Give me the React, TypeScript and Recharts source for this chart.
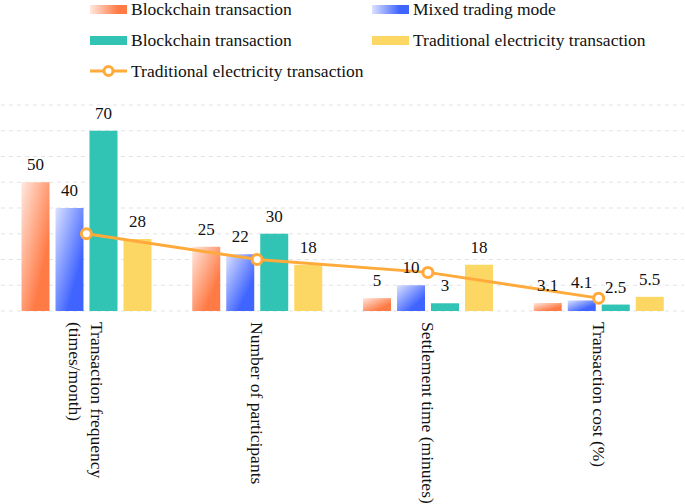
import React from "react";
import { ComposedChart, Bar, Line, XAxis, YAxis, CartesianGrid, Legend, LabelList } from "recharts";

const categories = ["Transaction frequency (times/month)", "Number of participants", "Settlement time (minutes)", "Transaction cost (%)"];
const tickLines = [["Transaction frequency", "(times/month)"], ["Number of participants"], ["Settlement time (minutes)"], ["Transaction cost (%)"]];
const blockchain = [50, 25, 5, 3.1];
const mixed = [40, 22, 10, 4.1];
const blockchainB = [70, 30, 3, 2.5];
const traditional = [28, 18, 18, 5.5];
const traditionalLine = [30, 20, 15, 5];
const yTicks = [0, 10, 20, 30, 40, 50, 60, 70, 80];
const edgeTicks = [0, 1, 2, 3, 4];
const legendOrder = ["blockchain", "mixed", "blockchainB", "traditional", "line"];

const data = categories.map((name, i) => ({
  name,
  blockchain: blockchain[i],
  mixed: mixed[i],
  blockchainB: blockchainB[i],
  traditional: traditional[i],
  line: traditionalLine[i],
}));

const FONT = "Liberation Serif";
const LINE_COLOR = "#FFAA3B";

const legendIcons: Record<string, string> = {
  blockchain: "linear-gradient(90deg, #FFE8DF 0%, #FF7B46 75%)",
  mixed: "linear-gradient(90deg, #DCE2FF 0%, #3F64FF 75%)",
  blockchainB: "#31C3B4",
  traditional: "#FDD764",
};

function LegendContent({ payload }: any) {
  const items = [...(payload || [])].sort(
    (a: any, b: any) => legendOrder.indexOf(a.dataKey) - legendOrder.indexOf(b.dataKey)
  );
  return (
    <div style={{ position: "relative", width: 685, height: 90, fontFamily: FONT, fontSize: 17.5, color: "#111" }}>
      {items.map((item: any, i: number) => {
        const col = i % 2;
        const row = Math.floor(i / 2);
        const key = item.dataKey as string;
        return (
          <div
            key={i}
            style={{
              position: "absolute",
              left: col === 0 ? 90 : 372,
              top: 9 + row * 31 - 15,
              height: 30,
              display: "flex",
              alignItems: "center",
              whiteSpace: "nowrap",
            }}
          >
            {key === "line" ? (
              <svg width={37} height={12} style={{ marginRight: 4 }}>
                <line x1={0} y1={6} x2={37} y2={6} stroke={LINE_COLOR} strokeWidth={3} />
                <circle cx={18.5} cy={6} r={4.5} fill="#fff" stroke={LINE_COLOR} strokeWidth={3} />
              </svg>
            ) : (
              <span style={{ display: "inline-block", width: 37, height: 9, background: legendIcons[key], marginRight: 4 }} />
            )}
            <span>{item.value}</span>
          </div>
        );
      })}
    </div>
  );
}

function CategoryTick({ x, y, payload }: any) {
  const lines = tickLines[payload.index] || [payload.value];
  const n = lines.length;
  return (
    <g transform={`translate(${x},${y})`}>
      <text transform="rotate(90)" style={{ fontFamily: FONT, fontSize: 17.5 }} fill="#111" textAnchor="start">
        {lines.map((l: string, i: number) => (
          <tspan key={i} x={11} y={-((n - 1) / 2 - i) * 22 + 6}>
            {l}
          </tspan>
        ))}
      </text>
    </g>
  );
}

const labelStyle = { fontFamily: FONT, fontSize: 17 };

export default function App() {
  return (
    <div style={{ position: "absolute", left: 0, top: 0, fontFamily: FONT }}>
      <ComposedChart width={685} height={504} data={data} margin={{ top: 15, right: 1, bottom: 0, left: 1 }} barGap={6} barCategoryGap="12%">
        <defs>
          <linearGradient id="gOrange" x1="0" y1="0" x2="1" y2="1">
            <stop offset="0%" stopColor="#FFE8DF" />
            <stop offset="72%" stopColor="#FF7B46" />
          </linearGradient>
          <linearGradient id="gBlue" x1="0" y1="0" x2="1" y2="1">
            <stop offset="0%" stopColor="#DCE2FF" />
            <stop offset="72%" stopColor="#3F64FF" />
          </linearGradient>
        </defs>
        <CartesianGrid vertical={false} stroke="#E3E3E3" strokeDasharray="4 4" />
        <XAxis
          xAxisId={0}
          type="number"
          domain={[0, 4]}
          ticks={edgeTicks}
          allowDataOverflow
          height={0}
          tickSize={5}
          tickFormatter={() => ""}
          stroke="#DDDDDD"
          tickLine={{ stroke: "#DDDDDD" }}
          axisLine={{ stroke: "#DDDDDD" }}
        />
        <XAxis xAxisId="cat" dataKey="name" height={193} axisLine={false} tickLine={false} tickSize={0} tickMargin={0} interval={0} tick={<CategoryTick />} />
        <YAxis hide domain={[0, 80]} ticks={yTicks} />
        <Legend verticalAlign="top" align="left" wrapperStyle={{ top: 0, left: 0, width: 685 }} content={<LegendContent />} />
        <Bar xAxisId="cat" dataKey="blockchain" name="Blockchain transaction" fill="url(#gOrange)" isAnimationActive={false}>
          <LabelList dataKey="blockchain" position="top" offset={12} fill="#111" style={labelStyle} />
        </Bar>
        <Bar xAxisId="cat" dataKey="mixed" name="Mixed trading mode" fill="url(#gBlue)" isAnimationActive={false}>
          <LabelList dataKey="mixed" position="top" offset={12} fill="#111" style={labelStyle} />
        </Bar>
        <Bar xAxisId="cat" dataKey="blockchainB" name="Blockchain transaction" fill="#31C3B4" isAnimationActive={false}>
          <LabelList dataKey="blockchainB" position="top" offset={12} fill="#111" style={labelStyle} />
        </Bar>
        <Bar xAxisId="cat" dataKey="traditional" name="Traditional electricity transaction" fill="#FDD764" isAnimationActive={false}>
          <LabelList dataKey="traditional" position="top" offset={12} fill="#111" style={labelStyle} />
        </Bar>
        <Line
          xAxisId="cat"
          dataKey="line"
          name="Traditional electricity transaction"
          stroke={LINE_COLOR}
          strokeWidth={3}
          dot={{ r: 5, fill: "#fff", stroke: LINE_COLOR, strokeWidth: 3 }}
          activeDot={false}
          isAnimationActive={false}
        />
      </ComposedChart>
    </div>
  );
}
